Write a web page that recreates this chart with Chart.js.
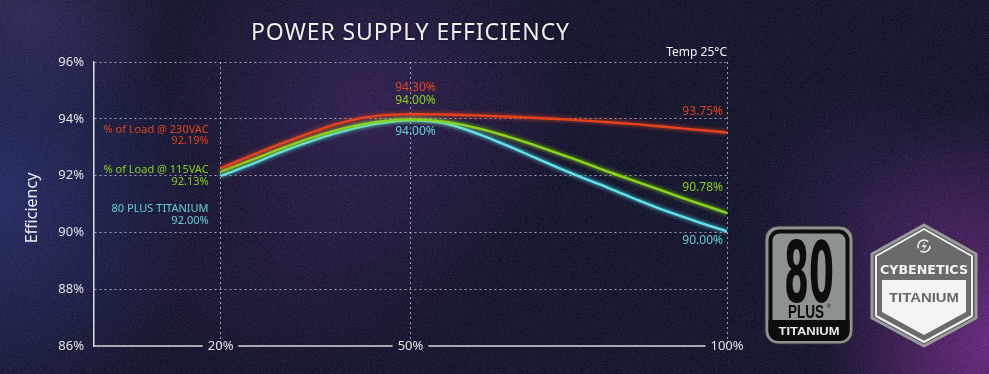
<!DOCTYPE html>
<html>
<head>
<meta charset="utf-8">
<script src="https://cdn.jsdelivr.net/npm/chart.js@4/dist/chart.umd.min.js"></script>
<style>
  html, body { margin: 0; padding: 0; }
  body {
    width: 989px; height: 374px; overflow: hidden; position: relative;
    font-family: "Noto Sans", "Open Sans", sans-serif;
    background:
      radial-gradient(ellipse 200px 240px at 0% 52%, rgba(34,42,110,0.75), rgba(34,42,110,0) 100%),
      radial-gradient(ellipse 150px 110px at 3% 4%, rgba(52,42,92,0.6), rgba(52,42,92,0) 100%),
      radial-gradient(ellipse 210px 190px at 37% 28%, rgba(52,26,84,0.7), rgba(52,26,84,0) 100%),
      radial-gradient(ellipse 200px 120px at 30% 70%, rgba(36,16,58,0.5), rgba(36,16,58,0) 100%),
      radial-gradient(ellipse 170px 240px at 100% 92%, rgba(112,34,132,0.85), rgba(112,34,132,0) 100%),
      radial-gradient(ellipse 120px 120px at 88% 55%, rgba(50,22,80,0.5), rgba(50,22,80,0) 100%),
      #09091f;
  }
  #noise { position: absolute; left: 0; top: 0; width: 989px; height: 374px; opacity: 0.3; pointer-events: none; mix-blend-mode: screen; }
  #wrap { position: absolute; left: 0; top: 0; width: 989px; height: 374px; }
  #title { position: absolute; left: 94px; width: 633px; top: 15px; text-align: center; color: #f0f0f0;
    font-size: 23px; letter-spacing: 0.9px; font-weight: 400; text-shadow: 0 0 3px rgba(0,0,0,0.6); }
  #temp { position: absolute; right: 262px; top: 43px; color: #f2f2f2; font-size: 12px; }
  #ytitle { position: absolute; left: 31px; top: 208px; color: #eeeeee; font-size: 16px;
    transform: translate(-50%, -50%) rotate(-90deg); white-space: nowrap; }
  #badges { position: absolute; left: 0; top: 0; }
</style>
</head>
<body>
<svg id="noise" width="989" height="374">
  <filter id="n"><feTurbulence type="fractalNoise" baseFrequency="0.75" numOctaves="2" seed="3"/><feColorMatrix type="saturate" values="0"/><feComponentTransfer><feFuncR type="linear" slope="0.5" intercept="-0.1"/><feFuncG type="linear" slope="0.5" intercept="-0.1"/><feFuncB type="linear" slope="0.6" intercept="-0.05"/></feComponentTransfer></filter>
  <rect width="989" height="374" filter="url(#n)"/>
</svg>
<div id="wrap"><canvas id="c" width="989" height="374"></canvas></div>
<div id="title">POWER SUPPLY EFFICIENCY</div>
<div id="temp">Temp 25°C</div>
<div id="ytitle">Efficiency</div>
<svg id="badges" width="989" height="374">
  <!-- 80 PLUS Titanium badge -->
  <rect x="765" y="226" width="88" height="118" rx="13" fill="#8d918f" stroke="#2b2b2b" stroke-width="1"/>
  <rect x="770.5" y="231.5" width="77" height="107" rx="9" fill="#8d918f" stroke="#0d0d0d" stroke-width="4"/>
  <path d="M768.5 320 H849.5 V332 a9 9 0 0 1 -9 9 H777.5 a9 9 0 0 1 -9 -9 Z" fill="#0d0d0d"/>
  <text x="809" y="302" text-anchor="middle" font-family="Liberation Sans Narrow, DejaVu Sans Condensed, Liberation Sans, sans-serif" font-weight="bold" font-size="84" fill="#0d0d0d" textLength="50" lengthAdjust="spacingAndGlyphs">80</text>
  <text x="806" y="318" text-anchor="middle" font-family="Liberation Sans, sans-serif" font-weight="bold" font-size="18" fill="#0d0d0d" textLength="36" lengthAdjust="spacingAndGlyphs">PLUS</text>
  <text x="827" y="308" font-family="Liberation Sans, sans-serif" font-size="5" fill="#0d0d0d">®</text>
  <text x="809" y="335" text-anchor="middle" font-family="Liberation Sans, sans-serif" font-weight="bold" font-size="11" fill="#e6e6e6" textLength="61" lengthAdjust="spacingAndGlyphs">TITANIUM</text>
  <!-- Cybenetics Titanium badge -->
  <path d="M924 225 L976 254 L976 318 L924 346 L872 318 L872 254 Z" fill="#5a5a5a" stroke="#9a9a9a" stroke-width="3" stroke-linejoin="round"/>
  <path d="M924 229 L972 256 L972 316 L924 342 L876 316 L876 256 Z" fill="#6a6a6a" stroke="#f2f2f2" stroke-width="2" stroke-linejoin="round"/>
  <path d="M882 280 H966 V312 L924 335 L882 312 Z" fill="#f4f4f4"/>
  <circle cx="924" cy="246" r="6" fill="none" stroke="#f2f2f2" stroke-width="1.6" stroke-dasharray="13 3 16 6"/>
  <path d="M925.5 241 L921.5 247 L924.5 247 L922.5 251.5 L926.8 245.2 L923.8 245.2 Z" fill="#f2f2f2"/>
  <text x="924" y="274" text-anchor="middle" font-family="DejaVu Sans, sans-serif" font-weight="bold" font-size="12" fill="#f4f4f4" textLength="88" lengthAdjust="spacingAndGlyphs">CYBENETICS</text>
  <text x="924" y="302" text-anchor="middle" font-family="Liberation Sans, sans-serif" font-weight="bold" font-size="13" fill="#666666" textLength="70" lengthAdjust="spacingAndGlyphs">TITANIUM</text>
</svg>
<script>
// ---- data ----
const loads = [20, 25, 30, 35, 40, 45, 50, 55, 60, 65, 70, 75, 80, 85, 90, 95, 100];
const eff230 = [92.26, 92.72, 93.16, 93.57, 93.92, 94.11, 94.16, 94.15, 94.12, 94.08, 94.03, 93.97, 93.90, 93.82, 93.72, 93.62, 93.52];
const eff115 = [92.14, 92.56, 92.99, 93.38, 93.70, 93.90, 93.98, 93.91, 93.70, 93.40, 93.04, 92.65, 92.24, 91.84, 91.45, 91.06, 90.68];
const effTitanium = [91.99, 92.41, 92.87, 93.27, 93.60, 93.84, 93.95, 93.86, 93.52, 93.08, 92.60, 92.12, 91.68, 91.22, 90.78, 90.40, 90.04];
const xTicks = [20, 50, 100];
const yTicks = [86, 88, 90, 92, 94, 96];
const seriesNames = ['% of Load @ 230VAC', '% of Load @ 115VAC', '80 PLUS TITANIUM'];
const labelsAt20 = ['92.19%', '92.13%', '92.00%'];
const labelsAt50 = ['94.30%', '94.00%', '94.00%'];
const labelsAt100 = ['93.75%', '90.78%', '90.00%'];

const lineColors = ['#e4421e', '#8ad51c', '#5fe2ec'];
const textColors = ['#e0431c', '#86d01e', '#62cfd4'];
const FONT = '"Noto Sans", "Open Sans", sans-serif';
const gridColor = 'rgba(215,215,225,0.7)';

const pts = arr => loads.map((x, i) => ({ x: x, y: arr[i] }));

const glow = {
  id: 'glow',
  beforeDatasetDraw(chart, args) {
    const ctx = chart.ctx;
    ctx.save();
    ctx.shadowColor = args.meta.dataset.options.borderColor;
    ctx.shadowBlur = 4;
  },
  afterDatasetDraw(chart) { chart.ctx.restore(); }
};

const xAxisLine = {
  id: 'xAxisLine',
  afterDraw(chart) {
    const ctx = chart.ctx, xs = chart.scales.x, area = chart.chartArea;
    const y = area.bottom;
    ctx.save();
    ctx.font = '13px ' + FONT;
    let start = area.left;
    ctx.strokeStyle = '#d6d6d6';
    ctx.lineWidth = 1.5;
    ctx.beginPath();
    xTicks.forEach((v) => {
      const px = xs.getPixelForValue(v);
      const w = ctx.measureText(v + '%').width;
      const end = px - w / 2 - 5;
      if (end > start) { ctx.moveTo(start, y); ctx.lineTo(end, y); }
      start = px + w / 2 + 5;
    });
    ctx.stroke();
    ctx.restore();
  }
};

const annotations = {
  id: 'annotations',
  afterDatasetsDraw(chart) {
    const ctx = chart.ctx, xs = chart.scales.x, area = chart.chartArea;
    const t = area.top;
    ctx.save();
    ctx.textBaseline = 'middle';
    ctx.textAlign = 'right';
    ctx.font = '11px ' + FONT;
    const lx = xs.getPixelForValue(20) - 12;
    const leftY = [[67.5, 79], [107.5, 120], [147, 159]];
    for (let i = 0; i < 3; i++) {
      ctx.fillStyle = textColors[i];
      ctx.fillText(seriesNames[i], lx, t + leftY[i][0]);
      ctx.fillText(labelsAt20[i], lx, t + leftY[i][1]);
    }
    ctx.textAlign = 'center';
    ctx.font = '12px ' + FONT;
    const mx = xs.getPixelForValue(50) + 5;
    const midY = [25.5, 39, 69.5];
    for (let i = 0; i < 3; i++) {
      ctx.fillStyle = textColors[i];
      ctx.fillText(labelsAt50[i], mx, t + midY[i]);
    }
    ctx.textAlign = 'right';
    const rx = xs.getPixelForValue(100) - 4;
    const rightY = [49.5, 126, 178.5];
    for (let i = 0; i < 3; i++) {
      ctx.fillStyle = textColors[i];
      ctx.fillText(labelsAt100[i], rx, t + rightY[i]);
    }
    ctx.restore();
  }
};

const mkDs = (label, arr, i) => ({
  label: label,
  data: pts(arr),
  borderColor: lineColors[i],
  borderWidth: 2.4,
  pointRadius: 0,
  fill: false,
  tension: 0.4
});

new Chart(document.getElementById('c'), {
  type: 'line',
  data: {
    datasets: [
      mkDs(seriesNames[0], eff230, 0),
      mkDs(seriesNames[1], eff115, 1),
      mkDs(seriesNames[2], effTitanium, 2)
    ]
  },
  options: {
    responsive: false,
    animation: false,
    events: [],
    layout: { padding: { left: 0, right: 262, top: 62, bottom: 0 } },
    plugins: { legend: { display: false }, tooltip: { enabled: false }, title: { display: false } },
    scales: {
      x: {
        type: 'linear',
        min: 0, max: 100,
        afterBuildTicks: s => { s.ticks = xTicks.map(v => ({ value: v })); },
        afterFit: s => { s.height = 28; },
        border: { display: false, dash: [2, 3] },
        grid: { color: gridColor, lineWidth: 1, drawTicks: false },
        ticks: {
          color: '#e2e2e2', font: { family: FONT, size: 13 }, padding: -7.8, mirror: true,
          maxRotation: 0, autoSkip: false,
          callback: v => v + '%'
        }
      },
      y: {
        min: 86, max: 96,
        afterBuildTicks: s => { s.ticks = yTicks.map(v => ({ value: v })); },
        afterFit: s => { s.width = 94; },
        border: { display: true, color: '#dedede', width: 1.5, dash: [2, 3] },
        grid: {
          color: c => (c.tick && c.tick.value === 86) ? 'rgba(0,0,0,0)' : gridColor,
          lineWidth: 1, drawTicks: false
        },
        ticks: {
          color: '#e2e2e2', font: { family: FONT, size: 13 }, padding: 10,
          callback: v => v + '%'
        }
      }
    }
  },
  plugins: [glow, xAxisLine, annotations]
});
</script>
</body>
</html>
